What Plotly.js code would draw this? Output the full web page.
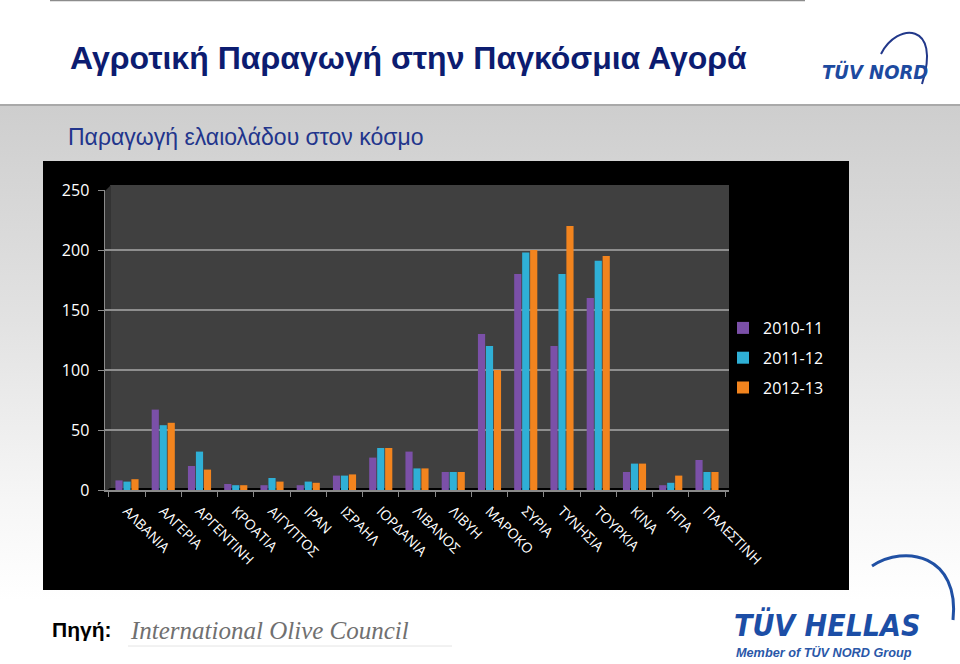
<!DOCTYPE html>
<html>
<head>
<meta charset="utf-8">
<script src="https://cdn.plot.ly/plotly-3.0.1.min.js"></script>
<style>
  html, body { margin: 0; padding: 0; }
  #page {
    width: 960px; height: 664px; position: relative;
    background: linear-gradient(to bottom, #ffffff 0px, #ffffff 104px, #a9a9a9 104px, #a9a9a9 106px,
                #cecece 106px, #e2e2e2 320px, #f6f6f6 500px, #ffffff 600px, #ffffff 664px);
  }
  #chart { position: absolute; left: 0; top: 0; width: 960px; height: 664px; }
</style>
</head>
<body>
<div id="page"><div id="chart"></div></div>
<script>
// olive oil production (thousand tonnes)
const countries = ['ΑΛΒΑΝΙΑ', 'ΑΛΓΕΡΙΑ', 'ΑΡΓΕΝΤΙΝΗ', 'ΚΡΟΑΤΙΑ', 'ΑΙΓΥΠΤΟΣ', 'ΙΡΑΝ', 'ΙΣΡΑΗΛ',
  'ΙΟΡΔΑΝΙΑ', 'ΛΙΒΑΝΟΣ', 'ΛΙΒΥΗ', 'ΜΑΡΟΚΟ', 'ΣΥΡΙΑ', 'ΤΥΝΗΣΙΑ', 'ΤΟΥΡΚΙΑ', 'ΚΙΝΑ', 'ΗΠΑ', 'ΠΑΛΕΣΤΙΝΗ'];
const seasons = ['2010-11', '2011-12', '2012-13'];
const prod1011 = [8, 67, 20, 5, 4, 4, 12, 27, 32, 15, 130, 180, 120, 160, 15, 4, 25];
const prod1112 = [7, 54, 32, 4, 10, 7, 12, 35, 18, 15, 120, 198, 180, 191, 22, 6, 15];
const prod1213 = [9, 56, 17, 4, 7, 6, 13, 35, 18, 15, 100, 200, 220, 195, 22, 12, 15];
const yTicks = [0, 50, 100, 150, 200, 250];

const colors = ['#7b50a8', '#2fb0d6', '#f2841e'];
const W = 960, H = 664;

// page pixel -> paper coords (margins are zero, so paper == page)
const X = px => px / W;
const Y = py => 1 - py / H;
const P = (px, py) => X(px) + ',' + Y(py);

const chartFont = 'Open Sans, Noto Sans, DejaVu Sans, sans-serif';
const arial = 'Liberation Sans, Arial, sans-serif';
const logoFont = 'DejaVu Sans Condensed, Liberation Sans, sans-serif';

const series = [prod1011, prod1112, prod1213];
const data = series.map((vals, i) => ({
  type: 'bar',
  name: seasons[i],
  legendgroup: seasons[i],
  x: countries,
  y: vals,
  marker: { color: colors[i], line: { width: 0 } },
  hoverinfo: 'skip'
}));

const shapes = [
  // black chart box
  { type: 'rect', xref: 'paper', yref: 'paper', layer: 'below',
    x0: X(43), x1: X(849), y0: Y(590), y1: Y(161), fillcolor: '#000000', line: { width: 0 } },
  // back wall
  { type: 'rect', xref: 'paper', yref: 'paper', layer: 'below',
    x0: X(110), x1: X(729), y0: Y(488), y1: Y(185), fillcolor: '#404040', line: { width: 0 } },
  // side wall
  { type: 'path', xref: 'paper', yref: 'paper', layer: 'below',
    path: 'M' + P(105, 191) + 'L' + P(111, 185) + 'L' + P(111, 487) + 'L' + P(105, 492) + 'Z',
    fillcolor: '#333333', line: { width: 0 } },
  // top rule of slide
  { type: 'line', xref: 'paper', yref: 'paper', x0: X(50), x1: X(805), y0: Y(0.5), y1: Y(0.5),
    line: { color: '#8c8c8c', width: 1.5 } },
  // TUV NORD arc
  { type: 'path', xref: 'paper', yref: 'paper',
    path: 'M' + P(881, 54) + 'C' + P(897, 22) + ' ' + P(942, 22) + ' ' + P(922, 84),
    line: { color: '#22388a', width: 2 } },
  // TUV HELLAS arc
  { type: 'path', xref: 'paper', yref: 'paper',
    path: 'M' + P(872, 566) + 'C' + P(905, 544) + ' ' + P(960, 555) + ' ' + P(953, 620),
    line: { color: '#2050a4', width: 3 } },
  // underline under source logo
  { type: 'line', xref: 'paper', yref: 'paper', x0: X(128), x1: X(452), y0: Y(646), y1: Y(646),
    line: { color: '#e4e4e4', width: 1 } }
];

const annotations = [
  { text: 'Αγροτική Παραγωγή στην Παγκόσμια Αγορά', x: X(68), y: Y(58),
    font: { family: arial, size: 32, color: '#0c1c70', weight: 'bold' } },
  { text: 'Παραγωγή ελαιολάδου στον κόσμο', x: X(66), y: Y(137),
    font: { family: arial, size: 23, color: '#22358c' } },
  { text: 'Πηγή:', x: X(50), y: Y(629),
    font: { family: arial, size: 21, color: '#000000', weight: 'bold' } },
  { text: '<i>International Olive Council</i>', x: X(128), y: Y(630),
    font: { family: 'Liberation Serif, DejaVu Serif, serif', size: 25, color: '#707070' } },
  { text: '<i>TÜV NORD</i>', x: X(820), y: Y(72),
    font: { family: logoFont, size: 20, color: '#1d4a9f', weight: 'bold' } },
  { text: '<i>TÜV HELLAS</i>', x: X(732), y: Y(625),
    font: { family: logoFont, size: 30, color: '#1c4ea6', weight: 'bold' } },
  { text: '<i>Member of TÜV NORD Group</i>', x: X(734), y: Y(652),
    font: { family: arial, size: 12.7, color: '#2a57a8', weight: 'bold' } }
].map(a => Object.assign({ xref: 'paper', yref: 'paper', xanchor: 'left', yanchor: 'middle', showarrow: false }, a));

const layout = {
  width: W,
  height: H,
  margin: { l: 0, r: 0, t: 0, b: 0, autoexpand: false },
  paper_bgcolor: 'rgba(0,0,0,0)',
  plot_bgcolor: 'rgba(0,0,0,0)',
  barmode: 'group',
  bargap: 0.34,
  bargroupgap: 0.1,
  showlegend: true,
  legend: {
    x: X(723), y: Y(311), xanchor: 'left', yanchor: 'top',
    font: { family: chartFont, size: 16, color: '#ffffff' },
    bgcolor: 'rgba(0,0,0,0)', tracegroupgap: 6, itemwidth: 30
  },
  xaxis: {
    domain: [X(105), X(729)],
    range: [-0.607, 16.607],
    type: 'category',
    tickangle: 45,
    tickfont: { family: chartFont, size: 14, color: '#ffffff' },
    ticks: 'outside', tickson: 'boundaries', ticklen: 5, tickcolor: '#8a8a8a',
    ticklabelstandoff: 6,
    showline: true, linecolor: '#8a8a8a', linewidth: 1.5,
    showgrid: false, zeroline: false, fixedrange: true
  },
  yaxis: {
    domain: [Y(490), Y(190)],
    range: [0, 250],
    tickvals: yTicks,
    tickfont: { family: chartFont, size: 16, color: '#ffffff' },
    ticks: 'outside', ticklen: 6, tickcolor: '#8a8a8a',
    ticklabelstandoff: 5,
    showline: true, linecolor: '#8a8a8a', linewidth: 1.5,
    gridcolor: '#8e8e8e', gridwidth: 1.5,
    zeroline: false, fixedrange: true
  },
  shapes: shapes,
  annotations: annotations
};

Plotly.newPlot('chart', data, layout, { displayModeBar: false, staticPlot: true });
</script>
</body>
</html>
